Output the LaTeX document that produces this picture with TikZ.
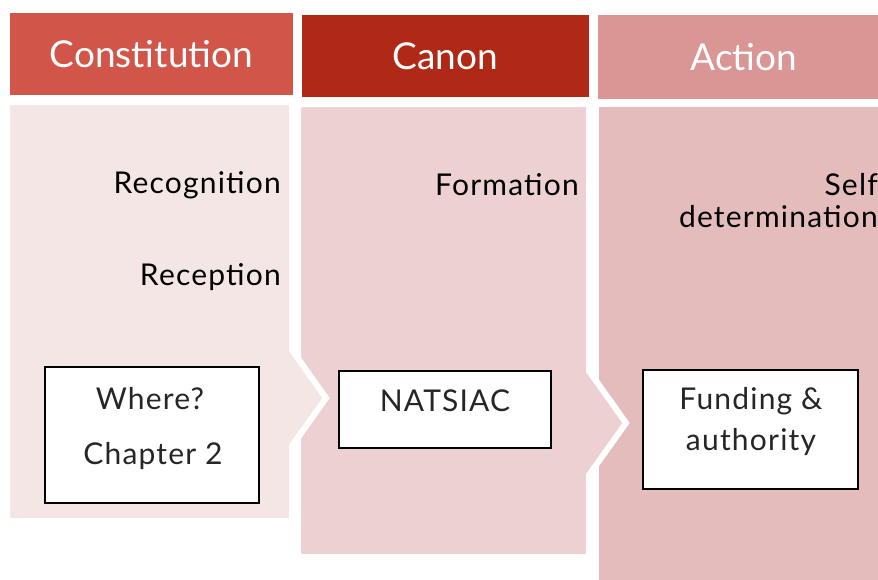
\documentclass[tikz,border=0pt]{standalone}
\usepackage{fontspec}
\setmainfont{Lato}
\newfontfamily\spacedfont[LetterSpace=4]{Lato}
\definecolor{headA}{HTML}{D2554A}
\definecolor{headB}{HTML}{AF2916}
\definecolor{headC}{HTML}{D99694}
\definecolor{bodyA}{HTML}{F5E6E6}
\definecolor{bodyB}{HTML}{EDD1D2}
\definecolor{bodyC}{HTML}{E4BCBC}
\begin{document}
\begin{tikzpicture}[x=1pt,y=-1pt,
  head/.style={text=white, inner sep=0, font=\fontsize{37}{40}\selectfont},
  side/.style={text=black, inner sep=0, font=\spacedfont\fontsize{30}{34}\selectfont},
  card/.style={draw=black, line width=2, fill=white, inner sep=0},
  cardtext/.style={text=black!85, inner sep=0, font=\spacedfont\fontsize{30}{34}\selectfont},
  chev/.style={draw=white, line width=6, line join=miter}]
\useasboundingbox (0,0) rectangle (878,579);

% column headers
\node[head, fill=headA, minimum width=283, minimum height=82] (hConst) at (151.5,54) {Constitution};
\node[head, fill=headB, minimum width=287, minimum height=82] (hCanon) at (445.5,56) {Canon};
\node[head, fill=headC, minimum width=292, minimum height=84] (hAction) at (744,57) {Action};

% column bodies, drawn right to left so each chevron overlaps the next column
\fill[bodyC] (599,107) rectangle (892,592);
\filldraw[chev, fill=bodyB] (298,104) -- (589,104) -- (589,371) -- (626,423)
  -- (589,475) -- (589,557) -- (298,557) -- cycle;
\filldraw[chev, fill=bodyA] (7,102) -- (292,102) -- (292,350) -- (326,398)
  -- (292,446) -- (292,521) -- (7,521) -- cycle;

% side labels
\node[side, anchor=base east] (recog) at (281,193) {Recognition};
\node[side, anchor=base east] (recep) at (281,285) {Reception};
\node[side, anchor=base east] (form) at (579,195) {Formation};
\node[side, anchor=base east] (self) at (878,195) {Self};
\node[side, anchor=base east] (determ) at (878,227) {determination};

% cards
\node[card, minimum width=214, minimum height=136] (where) at (152,435) {};
\node[cardtext, anchor=base] (whereA) at (150,409) {Where?};
\node[cardtext, anchor=base] (whereB) at (153,464) {Chapter 2};

\node[card, minimum width=212, minimum height=77] (natsiac) at (445,409.5) {};
\node[cardtext, anchor=base] (natsiacT) at (445,411) {NATSIAC};

\node[card, minimum width=215, minimum height=119] (fund) at (750.5,429.5) {};
\node[cardtext, anchor=base] (fundA) at (751,409) {Funding \&};
\node[cardtext, anchor=base] (fundB) at (751,450) {authority};
\end{tikzpicture}
\end{document}
